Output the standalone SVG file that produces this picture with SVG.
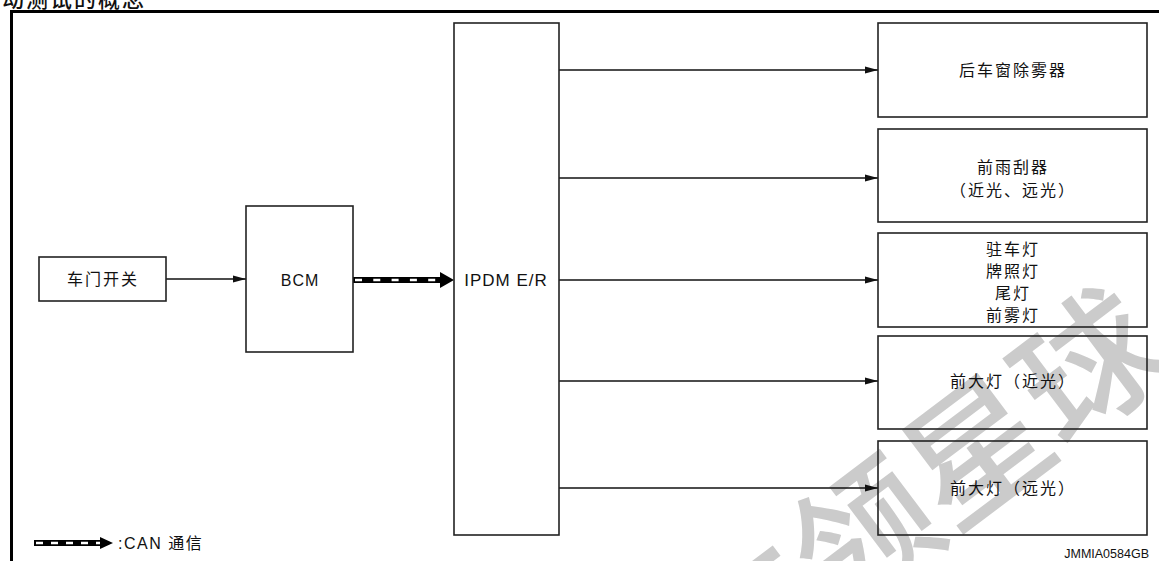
<svg xmlns="http://www.w3.org/2000/svg" width="1159" height="561" viewBox="0 0 1159 561">
<style>
.box{fill:none;stroke:#222;stroke-width:1.6}
.t{font-family:"Liberation Sans","Noto Sans CJK SC",sans-serif;font-size:16px;fill:#111;text-anchor:middle;letter-spacing:2px}
.e{font-family:"Liberation Sans","Noto Sans CJK SC",sans-serif;font-size:16px;fill:#111;text-anchor:middle;letter-spacing:1px}
.c{stroke:#111;stroke-width:1.4;fill:none}
.wm{font-family:"Noto Sans CJK SC",sans-serif;font-size:140px;font-weight:500;fill:#cbcbcb}
</style>
<defs>
<marker id="ah" markerUnits="userSpaceOnUse" markerWidth="13" markerHeight="8" refX="13" refY="4" orient="auto">
<path d="M0,0.5 L13,4 L0,7.5 z" fill="#111"/>
</marker>
</defs>
<rect width="1159" height="561" fill="#fff"/>
<g id="watermark">
<text class="wm" transform="translate(728,702) rotate(-37)">车领星球</text>
</g>
<text x="-22" y="7" style="font-family:'Noto Sans CJK SC',sans-serif;font-size:22px;font-weight:500;fill:#111;letter-spacing:2px">主动测试的概念</text>
<path d="M11.5 561 V11.5 H1159" fill="none" stroke="#000" stroke-width="3"/>
<g id="connectors">
<line class="c" x1="166" y1="279" x2="246" y2="279" marker-end="url(#ah)"/>
<line class="c" x1="559" y1="70" x2="878" y2="70" marker-end="url(#ah)"/>
<line class="c" x1="559" y1="178" x2="878" y2="178" marker-end="url(#ah)"/>
<line class="c" x1="559" y1="280" x2="878" y2="280" marker-end="url(#ah)"/>
<line class="c" x1="559" y1="381" x2="878" y2="381" marker-end="url(#ah)"/>
<line class="c" x1="559" y1="488" x2="878" y2="488" marker-end="url(#ah)"/>
<g id="can">
<rect x="353" y="277" width="88" height="6" fill="#000"/>
<line x1="355" y1="280" x2="440" y2="280" stroke="#fff" stroke-width="2.6" stroke-dasharray="7 11.3"/>
<path d="M440,272 L454,280 L440,288 z" fill="#000"/>
</g>
</g>
<g id="n-door"><rect class="box" x="39" y="257" width="127" height="44"/><text class="t" x="103" y="285">车门开关</text></g>
<g id="n-bcm"><rect class="box" x="246" y="206" width="107" height="146"/><text class="e" x="300" y="286">BCM</text></g>
<g id="n-ipdm"><rect class="box" x="454" y="23" width="105" height="512"/><text class="e" x="506" y="286" style="font-size:17px">IPDM E/R</text></g>
<g id="n-defog"><rect class="box" x="878" y="23" width="269" height="94"/><text class="t" x="1013" y="76">后车窗除雾器</text></g>
<g id="n-wiper"><rect class="box" x="878" y="129" width="269" height="93"/><text class="t" x="1013" y="173">前雨刮器</text><text class="t" x="1013" y="196">（近光、远光）</text></g>
<g id="n-lamps"><rect class="box" x="878" y="233" width="269" height="94"/><text class="t" x="1013" y="255">驻车灯</text><text class="t" x="1013" y="277">牌照灯</text><text class="t" x="1013" y="299">尾灯</text><text class="t" x="1013" y="321">前雾灯</text></g>
<g id="n-low"><rect class="box" x="878" y="336" width="269" height="93"/><text class="t" x="1013" y="387">前大灯（近光）</text></g>
<g id="n-high"><rect class="box" x="878" y="441" width="269" height="94"/><text class="t" x="1013" y="494">前大灯（远光）</text></g>
<g id="legend">
<rect x="34" y="540" width="67" height="6" fill="#000"/>
<line x1="36" y1="543" x2="100" y2="543" stroke="#fff" stroke-width="2.6" stroke-dasharray="7 8"/>
<path d="M100,537 L113,543 L100,549 z" fill="#000"/>
<text x="118" y="549" style="font-family:'Liberation Sans','Noto Sans CJK SC',sans-serif;font-size:16px;fill:#111;letter-spacing:1.5px">:CAN 通信</text>
</g>
<text x="1149" y="558" style="font-family:'Liberation Sans',sans-serif;font-size:12.5px;fill:#111;text-anchor:end">JMMIA0584GB</text>
</svg>
